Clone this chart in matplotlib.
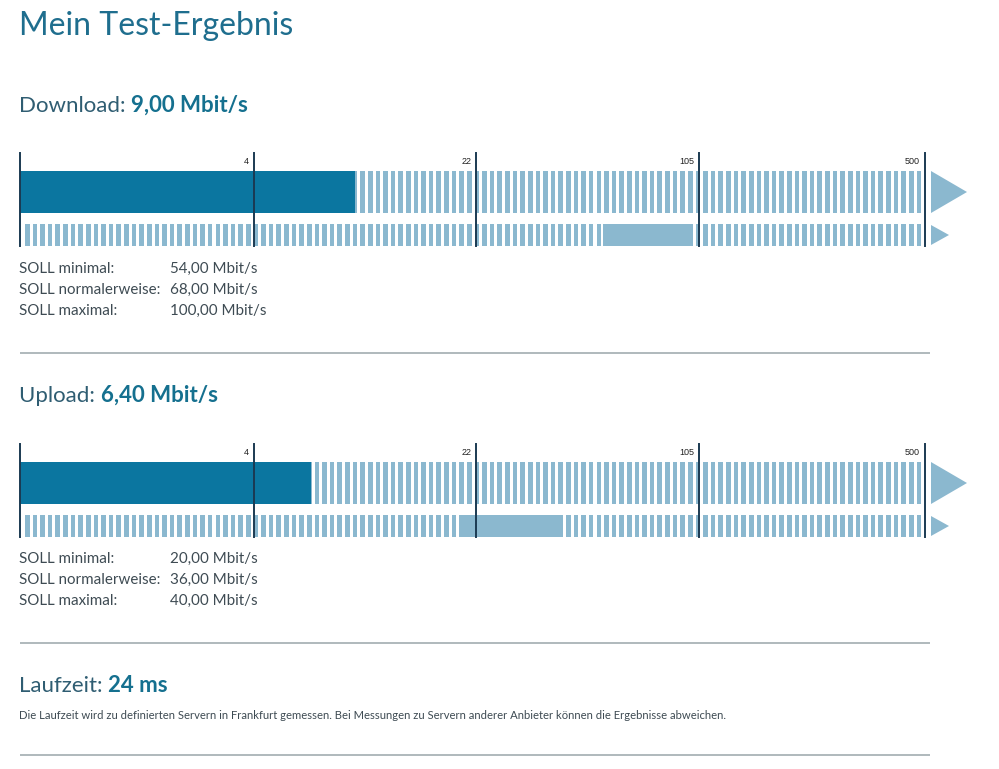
import numpy as np
import matplotlib
matplotlib.use("Agg")
import matplotlib.pyplot as plt
from matplotlib.patches import Rectangle, Polygon
from matplotlib.collections import PatchCollection
from matplotlib import transforms as mtrans

# ---------------- data ----------------
scale_ticks = [4, 22, 105, 500]
scale_tick_labels = ["4", "22", "105", "500"]

download_value = 9.00
download_label = "9,00 Mbit/s"
download_soll = [54.0, 68.0, 100.0]
download_soll_labels = ["54,00 Mbit/s", "68,00 Mbit/s", "100,00 Mbit/s"]

upload_value = 6.40
upload_label = "6,40 Mbit/s"
upload_soll = [20.0, 36.0, 40.0]
upload_soll_labels = ["20,00 Mbit/s", "36,00 Mbit/s", "40,00 Mbit/s"]

soll_names = ["SOLL minimal:", "SOLL normalerweise:", "SOLL maximal:"]
latency_label = "24 ms"
latency_note = ("Die Laufzeit wird zu definierten Servern in Frankfurt gemessen. "
                "Bei Messungen zu Servern anderer Anbieter können die Ergebnisse abweichen.")

# ---------------- style ----------------
W, H = 999, 769
DARK = "#0b76a0"
LIGHT = "#8bb8cf"
TICK = "#1b3a52"
TITLE_C = "#1f6e8e"
HEAD_C = "#2f5d72"
VAL_C = "#15708f"
TEXT_C = "#3e4b53"
SEP_C = "#9aa6aa"
FONT = "Lato"

plt.rcParams["font.family"] = [FONT, "DejaVu Sans"]


def fwd(v):
    v = np.asarray(v, float)
    return np.log1p(np.maximum(v, -0.999999))


def inv(p):
    return np.expm1(np.asarray(p, float))


fig = plt.figure(figsize=(W / 100, H / 100), dpi=100)
fig.patch.set_facecolor("white")

# full-figure overlay in pixel coordinates (y downwards)
ov = fig.add_axes([0, 0, 1, 1])
ov.set_xlim(0, W)
ov.set_ylim(H, 0)
ov.axis("off")


def heading(x, y, normal, bold, size):
    t = ov.text(x, y, normal, fontsize=size, color=HEAD_C, va="baseline", ha="left")
    ov.annotate(bold, xy=(1, 0), xycoords=t, xytext=(0, 0), textcoords="offset points",
                fontsize=size, color=VAL_C, fontweight="bold", va="bottom", ha="left")


ov.text(19, 35, "Mein Test-Ergebnis", fontsize=23, color=TITLE_C, va="baseline", ha="left")


def meter(top, value, soll):
    x0, x1 = 20, 925
    hgt = 93
    ax = fig.add_axes([x0 / W, 1 - (top + hgt) / H, (x1 - x0) / W, hgt / H])
    ax.set_xscale("function", functions=(fwd, inv))
    ax.set_xlim(0, scale_ticks[-1])
    ax.set_ylim(hgt, 0)
    ax.axis("off")

    blend = mtrans.blended_transform_factory(ax.transAxes, ax.transData)
    width_px = x1 - x0
    period = 7.62
    sw = 4.6
    rects = []
    starts = np.arange(5, width_px - 3, period)
    for s in starts:
        rects.append(Rectangle((s / width_px, 18), sw / width_px, 42))
        rects.append(Rectangle((s / width_px, 71), sw / width_px, 22))
    pc = PatchCollection(rects, facecolor=LIGHT, edgecolor="none", transform=blend, zorder=1)
    ax.add_collection(pc)

    # measured value bar
    ax.barh(39, value, height=42, left=0, color=DARK, zorder=2)
    # SOLL range (minimal .. maximal)
    ax.barh(82, soll[2] - soll[0], height=22, left=soll[0], color=LIGHT, zorder=2)

    for v in [0] + scale_ticks:
        ax.axvline(v, color=TICK, lw=1.4, zorder=3, clip_on=False)
    for v, lab in zip(scale_ticks, scale_tick_labels):
        off = mtrans.offset_copy(ax.transData, fig=fig, x=-5, y=0, units="dots")
        ax.text(v, 11, lab, transform=off, fontsize=6.5, family="Liberation Sans",
                color="#222222", ha="right", va="baseline", zorder=4)

    fx = lambda px: (px - x0) / width_px
    big = Polygon([(fx(931), 18), (fx(931), 60), (fx(967), 39)], closed=True,
                  transform=blend, facecolor=LIGHT, edgecolor="none", clip_on=False)
    small = Polygon([(fx(931), 72), (fx(931), 92), (fx(949), 82)], closed=True,
                    transform=blend, facecolor=LIGHT, edgecolor="none", clip_on=False)
    ax.add_patch(big)
    ax.add_patch(small)
    return ax


def soll_block(y0, labels):
    for i, (n, lab) in enumerate(zip(soll_names, labels)):
        y = y0 + i * 21
        ov.text(19, y, n, fontsize=10.9, color=TEXT_C, va="baseline", ha="left")
        ov.text(170, y, lab, fontsize=10.9, color=TEXT_C, va="baseline", ha="left")


def separator(y):
    ov.plot([20, 930], [y, y], color=SEP_C, lw=1.1, solid_capstyle="butt")


# Download
heading(19, 112, "Download: ", download_label, 16)
meter(153, download_value, download_soll)
soll_block(273, download_soll_labels)
separator(353)

# Upload
heading(19, 402, "Upload: ", upload_label, 16)
meter(444, upload_value, upload_soll)
soll_block(563, upload_soll_labels)
separator(643)

# Latency
heading(19, 692, "Laufzeit: ", latency_label, 16)
ov.text(19, 719, latency_note, fontsize=8.1, color=TEXT_C, va="baseline", ha="left")
separator(755)

fig.savefig("out.png", dpi=100, facecolor="white")
